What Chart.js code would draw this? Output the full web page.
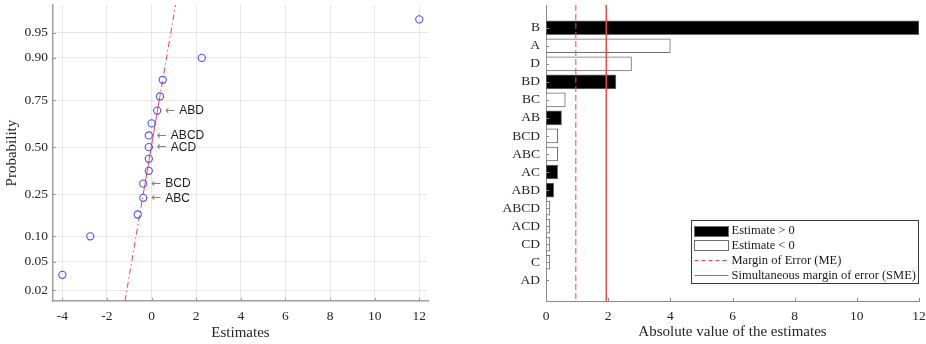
<!DOCTYPE html>
<html><head><meta charset="utf-8">
<script src="https://cdn.jsdelivr.net/npm/chart.js@4.4.1/dist/chart.umd.min.js"></script>
<style>
html,body{margin:0;padding:0;background:#fff;}
#wrap{position:relative;width:926px;height:344px;overflow:hidden;background:#fff;}
#c1{position:absolute;left:0;top:0;}
#c2{position:absolute;left:480px;top:0;}
</style></head><body>
<div id="wrap"><canvas id="c1" width="440" height="344"></canvas><canvas id="c2" width="446" height="344"></canvas></div>
<script>
// ---------------- data ----------------
const effectNames = ['B','A','D','BD','BC','AB','BCD','ABC','AC','ABD','ABCD','ACD','CD','C','AD'];
const estimates   = [12.0,-4.0,-2.75,2.25,-0.62,0.5,-0.375,-0.375,0.375,0.25,-0.125,-0.125,-0.125,-0.125,0.0];
const normalOrder = ['A','D','BC','ABC','BCD','C','CD','ACD','ABCD','AD','ABD','AC','AB','BD','B'];
const normalProbs = [0.0333,0.1,0.1667,0.2333,0.3,0.3667,0.4333,0.5,0.5667,0.6333,0.7,0.7667,0.8333,0.9,0.9667];
const probTicks = [0.02,0.05,0.10,0.25,0.50,0.75,0.90,0.95];
const probTickLabels = ['0.02','0.05','0.10','0.25','0.50','0.75','0.90','0.95'];
const estimateTicks = [-4,-2,0,2,4,6,8,10,12];
const absTicks = [0,2,4,6,8,10,12];
const labelledEffects = ['ABD','ABCD','ACD','BCD','ABC'];
const marginOfError = 0.96;
const simultaneousMarginOfError = 1.94;
const legendLabels = ['Estimate > 0','Estimate < 0','Margin of Error (ME)','Simultaneous margin of error (SME)'];

// ---------------- helpers ----------------
function invNorm(p){
  const a=[-3.969683028665376e+01,2.209460984245205e+02,-2.759285104469687e+02,1.383577518672690e+02,-3.066479806614716e+01,2.506628277459239e+00];
  const b=[-5.447609879822406e+01,1.615858368580409e+02,-1.556989798598866e+02,6.680131188771972e+01,-1.328068155288572e+01];
  const c=[-7.784894002430293e-03,-3.223964580411365e-01,-2.400758277161838e+00,-2.549732539343734e+00,4.374664141464968e+00,2.938163982698783e+00];
  const d=[7.784695709041462e-03,3.224671290700398e-01,2.445134137142996e+00,3.754408661907416e+00];
  const pl=0.02425, ph=1-pl; let q,r;
  if(p<pl){q=Math.sqrt(-2*Math.log(p));return (((((c[0]*q+c[1])*q+c[2])*q+c[3])*q+c[4])*q+c[5])/((((d[0]*q+d[1])*q+d[2])*q+d[3])*q+1);}
  if(p<=ph){q=p-0.5;r=q*q;return (((((a[0]*r+a[1])*r+a[2])*r+a[3])*r+a[4])*r+a[5])*q/(((((b[0]*r+b[1])*r+b[2])*r+b[3])*r+b[4])*r+1);}
  q=Math.sqrt(-2*Math.log(1-p));return -(((((c[0]*q+c[1])*q+c[2])*q+c[3])*q+c[4])*q+c[5])/((((d[0]*q+d[1])*q+d[2])*q+d[3])*q+1);
}
function estOf(name){ return estimates[effectNames.indexOf(name)]; }
function prctile(sorted, pct){
  const n=sorted.length, pos=n*pct/100+0.5;
  if(pos<=1) return sorted[0];
  if(pos>=n) return sorted[n-1];
  const k=Math.floor(pos), f=pos-k;
  return sorted[k-1]+f*(sorted[k]-sorted[k-1]);
}
function fixV(w){ return s=>{ s.width=w; s.paddingTop=0; s.paddingBottom=0; }; }
function fixH(h){ return s=>{ s.height=h; s.paddingLeft=0; s.paddingRight=0; }; }

const SERIF = "'Liberation Serif','Times New Roman',serif";
const SANS = "'Liberation Sans',Arial,'DejaVu Sans',sans-serif";
const TXT = '#262626';
const RED = '#ff4040';
Chart.defaults.font.family = SERIF;
Chart.defaults.color = TXT;

// ---------------- normal probability plot ----------------
const zMin = -2.21, zMax = 2.04;
const points = normalOrder.map((n,i)=>({x:estOf(n), y:invNorm(normalProbs[i]), name:n}));
const sortedEst = normalOrder.map(estOf).slice().sort((a,b)=>a-b);
const q1 = prctile(sortedEst,25), q3 = prctile(sortedEst,75);
const z1 = invNorm(0.25), z3 = invNorm(0.75);
const slope = (q3-q1)/(z3-z1);
const xAtZ = z => q1 + (z-z1)*slope;
const solidSeg = [{x:xAtZ(z1),y:z1},{x:xAtZ(z3),y:z3}];
const lowSeg = [{x:xAtZ(zMin),y:zMin},{x:xAtZ(z1),y:z1}];
const highSeg = [{x:xAtZ(z3),y:z3},{x:xAtZ(zMax),y:zMax}];

const inwardTicks = {
  id:'inwardTicks',
  afterDatasetsDraw(chart, args, o){
    const {ctx, chartArea:a, scales} = chart;
    ctx.save(); ctx.strokeStyle=o.color; ctx.lineWidth=1;
    scales.x.ticks.forEach(t=>{const p=Math.round(scales.x.getPixelForValue(t.value))+0.5;ctx.beginPath();ctx.moveTo(p,a.bottom);ctx.lineTo(p,a.bottom-o.len);ctx.stroke();});
    scales.y.ticks.forEach(t=>{const p=Math.round(scales.y.getPixelForValue(t.value))+0.5;ctx.beginPath();ctx.moveTo(a.left,p);ctx.lineTo(a.left+o.len,p);ctx.stroke();});
    ctx.restore();
  }
};

const effectLabels = {
  id:'effectLabels',
  afterDatasetsDraw(chart){
    const {ctx, scales} = chart;
    ctx.save(); ctx.textBaseline='middle';
    points.forEach(p=>{
      if(!labelledEffects.includes(p.name)) return;
      const px = scales.x.getPixelForValue(p.x), py = scales.y.getPixelForValue(p.y);
      ctx.font="12px 'DejaVu Sans',sans-serif";
      ctx.fillStyle='#808080'; ctx.fillText('\u2190', px+8, py);
      const aw = ctx.measureText('\u2190').width;
      ctx.font='12px '+SANS;
      ctx.fillStyle='#1a1a1a'; ctx.fillText(p.name, px+8+aw+4, py+0.5);
    });
    ctx.restore();
  }
};

new Chart(document.getElementById('c1'), {
  type:'scatter',
  data:{datasets:[
    {data:points, showLine:false, pointRadius:3.6, pointBorderColor:'#4d4dff', pointBackgroundColor:'rgba(0,0,0,0)', pointBorderWidth:1.1, order:0},
    {type:'line', data:solidSeg, borderColor:RED, borderWidth:1, pointRadius:0, order:1},
    {type:'line', data:lowSeg, borderColor:RED, borderWidth:1, borderDash:[6,3,1.5,3], pointRadius:0, order:1},
    {type:'line', data:highSeg, borderColor:RED, borderWidth:1, borderDash:[6,3,1.5,3], pointRadius:0, order:1}
  ]},
  options:{
    responsive:false, animation:false, events:[],
    layout:{padding:{top:5,right:12,bottom:0,left:0}},
    plugins:{legend:{display:false}, tooltip:{enabled:false}, inwardTicks:{color:'#9a9a9a',len:3}},
    scales:{
      x:{type:'linear', min:-4.42, max:12.39,
        afterBuildTicks:s=>{s.ticks=estimateTicks.map(v=>({value:v}));},
        afterFit:fixH(43),
        grid:{color:'#e6e6e6', drawTicks:false},
        border:{color:'#a0a0a0', width:1.5},
        ticks:{padding:7, font:{size:13.5}, color:TXT, autoSkip:false, maxRotation:0, callback:v=>String(v)},
        title:{display:true, text:'Estimates', font:{size:15}, color:TXT, padding:{top:0,bottom:2}}
      },
      y:{type:'linear', min:zMin, max:zMax,
        afterBuildTicks:s=>{s.ticks=probTicks.map(p=>({value:invNorm(p)}));},
        afterFit:fixV(53),
        grid:{color:'#e6e6e6', drawTicks:false},
        border:{color:'#a0a0a0', width:1.5},
        ticks:{padding:5, font:{size:13.5}, color:TXT, autoSkip:false, callback:(v,i)=>probTickLabels[i]},
        title:{display:true, text:'Probability', font:{size:15}, color:TXT, padding:{top:3,bottom:0}}
      }
    }
  },
  plugins:[inwardTicks, effectLabels]
});

// ---------------- Pareto (bar) chart ----------------
const yMinBar = -0.26, yMaxBar = 16.15;
const boxLegend = {
  id:'boxLegend',
  afterDraw(chart){
    const {ctx, chartArea:a} = chart;
    const w=227, h=63;
    const x0=Math.round(a.right-1-w)+0.5, y0=Math.round(a.bottom-18.4-h)+0.5;
    ctx.save();
    ctx.fillStyle='#fff'; ctx.fillRect(x0,y0,w,h);
    ctx.strokeStyle='#3a3a3a'; ctx.lineWidth=1; ctx.strokeRect(x0,y0,w,h);
    ctx.font='12.5px '+SERIF; ctx.textBaseline='middle';
    legendLabels.forEach((lab,i)=>{
      const cy = y0+10+i*14.8;
      const sx = x0+3, sw=34;
      if(i<2){
        ctx.fillStyle = i===0 ? '#000' : '#fff';
        ctx.fillRect(sx, Math.round(cy-5)+0.5, sw, 10);
        ctx.strokeStyle='#6e6e6e'; ctx.lineWidth=1; ctx.strokeRect(sx, Math.round(cy-5)+0.5, sw, 10);
      } else {
        ctx.fillStyle=RED;
        const ly = Math.round(cy);
        if(i===2){ for(let xx=0; xx<sw; xx+=7){ ctx.fillRect(sx+xx, ly, Math.min(4, sw-xx), 1); } }
        else { ctx.fillRect(sx, ly, sw, 1); }
      }
      ctx.fillStyle='#1a1a1a'; ctx.fillText(lab, x0+40, cy+0.5);
    });
    ctx.restore();
  }
};

new Chart(document.getElementById('c2'), {
  type:'bar',
  data:{datasets:[
    {type:'bar', data:effectNames.map((n,i)=>({x:Math.abs(estimates[i]), y:i+1})),
      backgroundColor:estimates.map(v=>v>0?'#000000':'#ffffff'), borderColor:'#6e6e6e', borderWidth:1,
      borderSkipped:false, barThickness:14, order:1},
    {type:'line', data:[{x:marginOfError,y:yMinBar},{x:marginOfError,y:yMaxBar}], borderColor:RED, borderWidth:1, borderDash:[6,3], pointRadius:0, order:0},
    {type:'line', data:[{x:simultaneousMarginOfError,y:yMinBar},{x:simultaneousMarginOfError,y:yMaxBar}], borderColor:RED, borderWidth:1, pointRadius:0, order:0}
  ]},
  options:{
    indexAxis:'y', responsive:false, animation:false, events:[],
    layout:{padding:{top:5,right:7,bottom:0,left:0}},
    plugins:{legend:{display:false}, tooltip:{enabled:false}, inwardTicks:{color:'#8a8a8a',len:3}},
    scales:{
      x:{type:'linear', min:0, max:12, offset:false,
        afterBuildTicks:s=>{s.ticks=absTicks.map(v=>({value:v}));},
        afterFit:fixH(43),
        grid:{display:false, drawTicks:false, offset:false},
        border:{color:'#8a8a8a', width:1},
        ticks:{padding:7, font:{size:13.5}, color:TXT, autoSkip:false, maxRotation:0, callback:v=>String(v)},
        title:{display:true, text:'Absolute value of the estimates', font:{size:15}, color:TXT, padding:{top:0,bottom:3}}
      },
      y:{type:'linear', reverse:true, min:yMinBar, max:yMaxBar, offset:false,
        afterBuildTicks:s=>{s.ticks=effectNames.map((n,i)=>({value:i+1}));},
        afterFit:fixV(66),
        grid:{display:false, drawTicks:false, offset:false},
        border:{color:'#8a8a8a', width:1},
        ticks:{padding:6, font:{size:13.5}, color:TXT, autoSkip:false, callback:(v,i)=>effectNames[i]}
      }
    }
  },
  plugins:[inwardTicks, boxLegend]
});
</script>
</body></html>
